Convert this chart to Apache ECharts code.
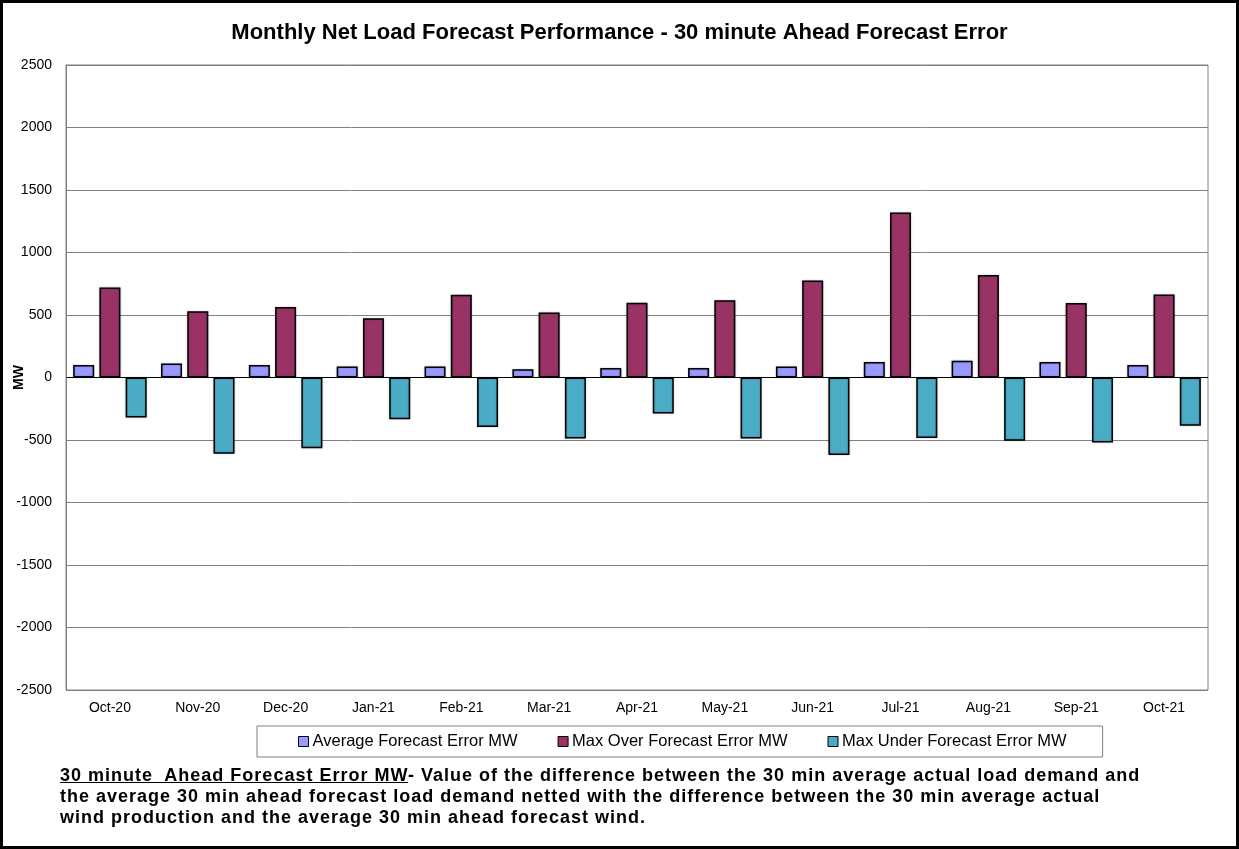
<!DOCTYPE html>
<html>
<head>
<meta charset="utf-8">
<script src="https://cdn.jsdelivr.net/npm/echarts@6/dist/echarts.min.js"></script>
<style>
  html, body { margin: 0; padding: 0; background: #fff; }
  #wrap { position: relative; width: 1239px; height: 849px; box-sizing: border-box; border: 3px solid #000; }
  #chart { position: absolute; left: -3px; top: -3px; width: 1239px; height: 849px; }
  #note {
    position: absolute; left: 57px; top: 762px; width: 1170px; white-space: nowrap;
    font-family: "Liberation Sans", Arial, sans-serif; font-weight: bold;
    font-size: 18px; letter-spacing: 1px; line-height: 21px; color: #000;
  }
  #note u { text-decoration: underline; }
</style>
</head>
<body>
<div id="wrap">
  <div id="chart"></div>
  <div id="note"><u>30 minute&nbsp; Ahead Forecast Error MW</u>- Value of the difference between the 30 min average actual load demand and<br>the average 30 min ahead forecast load demand netted with the difference between the 30 min average actual<br>wind production and the average 30 min ahead forecast wind.</div>
</div>
<script>
const months = ['Oct-20', 'Nov-20', 'Dec-20', 'Jan-21', 'Feb-21', 'Mar-21', 'Apr-21',
  'May-21', 'Jun-21', 'Jul-21', 'Aug-21', 'Sep-21', 'Oct-21'];
const avgError = [100, 112, 100, 88, 88, 66, 77, 77, 88, 125, 135, 125, 100];
const maxOver = [720, 530, 565, 475, 662, 521, 598, 619, 776, 1320, 821, 597, 665];
const maxUnder = [-320, -610, -565, -333, -396, -487, -287, -487, -620, -483, -505, -519, -386];

// grid line colours, zero line is black
const gridColors = ['#808080', '#808080', '#808080', '#808080', '#808080', '#000',
  '#808080', '#808080', '#808080', '#808080', '#808080'];

const chart = echarts.init(document.getElementById('chart'));
const font = '"Liberation Sans", Arial, sans-serif';

function barSeries(name, data, color) {
  return {
    name: name,
    type: 'bar',
    data: data,
    barWidth: 21,
    barGap: '25%',
    itemStyle: {
      color: color, borderColor: '#000', borderWidth: 1.5,
      shadowColor: 'rgba(0,0,0,0.25)', shadowBlur: 2
    }
  };
}

chart.setOption({
  animation: false,
  textStyle: { fontFamily: font },
  title: {
    text: 'Monthly Net Load Forecast Performance - 30 minute Ahead Forecast Error',
    left: 'center',
    top: 17,
    textStyle: { fontSize: 22, fontWeight: 'bold', color: '#000', fontFamily: font }
  },
  legend: {
    left: 257,
    top: 726,
    padding: [7, 36, 7, 41],
    itemGap: 40,
    itemWidth: 10,
    itemHeight: 10,
    icon: 'rect',
    borderColor: '#808080',
    borderWidth: 1,
    itemStyle: { borderColor: '#000', borderWidth: 1 },
    textStyle: { fontSize: 16.5, color: '#000', fontFamily: font, padding: [0, 0, 0, -1] },
    data: ['Average Forecast Error MW', 'Max Over Forecast Error MW', 'Max Under Forecast Error MW']
  },
  grid: {
    left: 66, right: 31, top: 65, bottom: 159,
    containLabel: false,
    outerBoundsMode: 'none',
    show: true, borderColor: '#808080', borderWidth: 1
  },
  xAxis: {
    type: 'category',
    data: months,
    axisLine: { show: false },
    axisTick: { show: false },
    axisLabel: { color: '#000', fontSize: 14, margin: 11, fontFamily: font }
  },
  yAxis: {
    type: 'value',
    min: -2500,
    max: 2500,
    interval: 500,
    name: 'MW',
    nameLocation: 'middle',
    nameGap: 40,
    nameMoveOverlap: false,
    nameTextStyle: { fontSize: 14, fontWeight: 'bold', color: '#000', fontFamily: font },
    axisLine: { show: true, lineStyle: { color: '#808080' } },
    axisTick: { show: false },
    axisLabel: {
      color: '#000', fontSize: 14, margin: 14, fontFamily: font,
      formatter: function (v) { return String(v); }
    },
    splitLine: { show: true, lineStyle: { color: gridColors, width: 1 } }
  },
  series: [
    barSeries('Average Forecast Error MW', avgError, '#9999FF'),
    barSeries('Max Over Forecast Error MW', maxOver, '#993366'),
    barSeries('Max Under Forecast Error MW', maxUnder, '#4BACC6')
  ]
});
</script>
</body>
</html>
